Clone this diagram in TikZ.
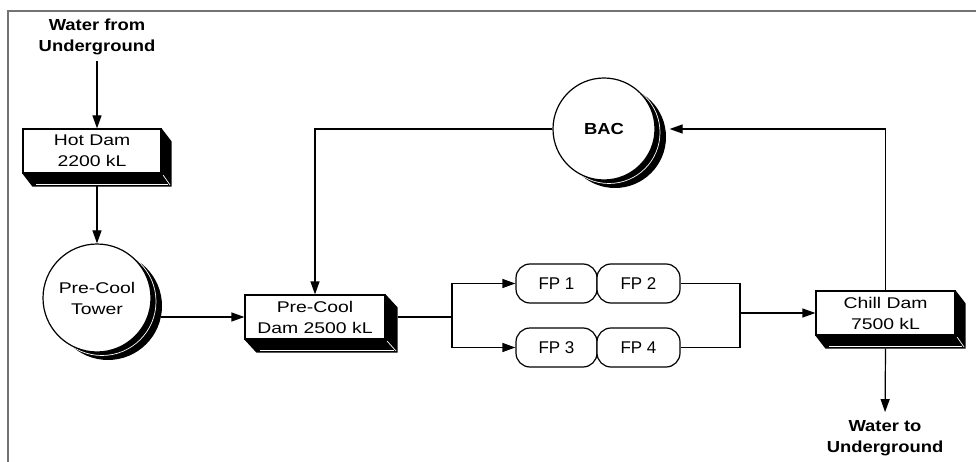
\documentclass[tikz,border=0pt]{standalone}
\usepackage{fontspec}
\setmainfont{Liberation Sans}[FakeStretch=1.25]
\newfontfamily\lblfont{Liberation Sans}[FakeStretch=1.15]
\newfontfamily\fpfont{Liberation Sans}
\usetikzlibrary{arrows.meta,calc}
\newcommand{\extrude}[3]{%
  \fill[black] (#1.north east) -- ++(#2,#3) -- ($(#1.south east)+(#2,#3)$) -- ($(#1.south west)+(#2,#3)$) -- (#1.south west) -- (#1.south east) -- cycle;
  \draw[white, line width=0.7pt] ($(#1.south east)+(1.5,1.5)$) -- ($(#1.south east)+(#2,#3)+(-1.5,-1.5)$);
  \draw[white, line width=0.5pt] ($(#1.south west)+(#2,#3)+(4,-2.5)$) -- ($(#1.south east)+(#2,#3)+(-4,-2.5)$);
}
\newcommand{\tankshadow}[3]{%
  \fill[black] ($(#1)+(11,8)$) circle (#2);
  \draw[white, line width=0.7pt] ($(#1)+(5,3.5)$) circle (#3);
}
\tikzset{
  line/.style={line width=1.2pt, draw=black},
  arr/.style={line, -{Triangle[length=13pt,width=9pt]}},
  dam/.style={draw=black, line width=1.2pt, fill=white, rectangle, align=center,
    inner sep=0pt, font=\fontsize{15.5}{21}\selectfont},
  tank/.style={circle, draw=black, line width=1.2pt, fill=white, inner sep=0pt,
    align=center},
  pump/.style={rounded corners=14pt, draw=black, line width=1.2pt, fill=white,
    minimum height=39pt, inner sep=0pt, font=\fpfont\fontsize{17}{20}\selectfont},
  lbl/.style={align=center, font=\lblfont\bfseries\fontsize{16}{21}\selectfont, inner sep=2pt},
}
\begin{document}
\begin{tikzpicture}[x=1pt,y=-1pt]
\useasboundingbox (0,0) rectangle (976,462);
\fill[white] (0,0) rectangle (976,462);
% frame (cropped)
\draw[black!55, line width=1.5pt] (8,462) -- (8,11) -- (976,11);

% labels
\node[lbl] (wfu) at (97,37) {Water from\\Underground};
\node[lbl] (wtu) at (885,438) {Water to\\Underground};

% dams
\node[dam, minimum width=138pt, minimum height=44pt] (hd) at (92,151) {Hot Dam\\2200 kL};
\extrude{hd}{10}{13}
\node[dam, minimum width=140pt, minimum height=44pt] (pcd) at (315,317) {Pre-Cool\\Dam 2500 kL};
\extrude{pcd}{12}{13}
\node[dam, minimum width=139pt, minimum height=44pt] (cd) at (885.5,313) {Chill Dam\\7500 kL};
\extrude{cd}{10}{13}

% tanks
\tankshadow{97,298}{54pt}{54pt}
\node[tank, minimum size=108pt, font=\fontsize{15.5}{21}\selectfont] (tower) at (97,298) {Pre-Cool\\Tower};
\tankshadow{604,129}{51pt}{51pt}
\node[tank, minimum size=102pt, font=\lblfont\bfseries\fontsize{16}{20}\selectfont] (bac) at (604,129) {BAC};

% pumps
\node[pump, minimum width=81pt] (fp1) at (556.5,283.5) {FP 1};
\node[pump, minimum width=83pt] (fp2) at (638.5,283.5) {FP 2};
\node[pump, minimum width=81pt] (fp3) at (556.5,347.5) {FP 3};
\node[pump, minimum width=83pt] (fp4) at (638.5,347.5) {FP 4};

% coordinates
\coordinate (hb) at (97,186);
\coordinate (te) at ([xshift=9pt]tower.east);
\coordinate (pe) at ([xshift=12pt]pcd.east);
\coordinate (split) at (452,317);
\coordinate (join) at (740,313);
\coordinate (be) at ([xshift=14pt]bac.east);
\coordinate (cb) at ([yshift=-13pt]cd.south);

% connectors
\draw[arr] ([yshift=-4pt]wfu.south) -- (wfu.south |- hd.north);
\draw[arr] (hb) -- (tower.north);
\draw[arr] (te |- pcd.west) -- (pcd.west);
\draw[line] (pe) -- (split);
\draw[arr] (split) |- (fp1.west);
\draw[arr] (split) |- (fp3.west);
\draw[line] (fp2.east) -| (join);
\draw[line] (fp4.east) -| (join);
\draw[arr] (join) -- (cd.west);
\draw[arr] (cd.north) |- (be);
\draw[arr] (bac.west) -| (pcd.north);
\draw[arr, shorten >=6pt] (cb) -- (wtu.north);
\end{tikzpicture}
\end{document}
